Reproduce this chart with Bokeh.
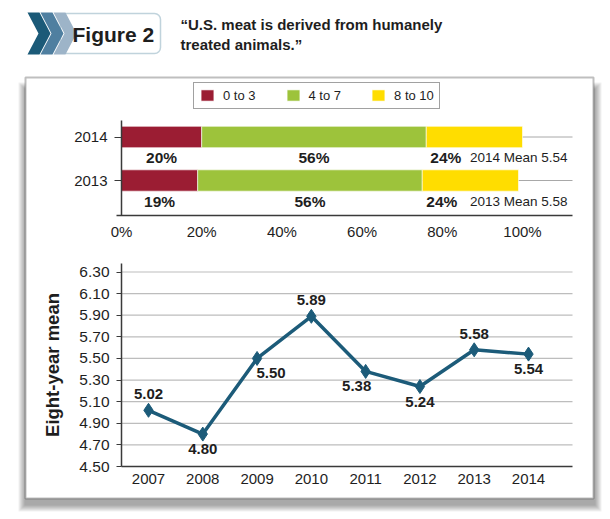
from bokeh.plotting import figure
from bokeh.models import (Range1d, LinearAxis, FixedTicker, BoxAnnotation,
                          Legend, LegendItem, ColumnDataSource)
from bokeh.core.properties import value
from bokeh.embed import file_html
from bokeh.resources import INLINE

# ---------------- data ----------------
bar_years = ["2013", "2014"]
share_low = [19, 20]     # ratings 0 to 3 (%)
share_mid = [56, 56]     # ratings 4 to 7 (%)
share_high = [24, 24]    # ratings 8 to 10 (%)
bands = ["0 to 3", "4 to 7", "8 to 10"]
pct_ticks = [0, 20, 40, 60, 80, 100]
pct_tick_labels = ["0%", "20%", "40%", "60%", "80%", "100%"]

years = [2007, 2008, 2009, 2010, 2011, 2012, 2013, 2014]
means = [5.02, 4.80, 5.50, 5.89, 5.38, 5.24, 5.58, 5.54]
mean_ticks = [4.50, 4.70, 4.90, 5.10, 5.30, 5.50, 5.70, 5.90, 6.10, 6.30]
mean_tick_labels = ["4.50", "4.70", "4.90", "5.10", "5.30",
                    "5.50", "5.70", "5.90", "6.10", "6.30"]

title_lines = ["\u201cU.S. meat is derived from humanely", "treated animals.\u201d"]
figure_label = "Figure 2"
y_title = "Eight-year mean"

# ---------------- page layout (pixels) ----------------
W, H = 610, 519
band_colors = ["#9b1d33", "#9dc33b", "#ffdd00"]
line_color = "#1c5b79"
ink = "#1e1e1e"
FONT = "Liberation Sans"


def scale(d0, d1, p0, p1):
    """Linear map from a pixel position to a data value (d0 at p0, d1 at p1)."""
    return lambda px: d0 + (d1 - d0) * (px - p0) / (p1 - p0)


# stacked-bar panel: 0% at x=121, 100% at x=522; rows 0/1 at y=180/136.5
bx = scale(0, 100, 121, 522)
by = scale(0, 1, 180, 136.5)
# line panel: 2007 at x=148, 2014 at x=528; 4.50 at y=466, 6.30 at y=271.5
lx = scale(years[0], years[-1], 148, 528)
ly = scale(mean_ticks[0], mean_ticks[-1], 466, 271.5)

p = figure(width=W, height=H, output_backend="svg", toolbar_location=None,
           x_range=Range1d(0, W), y_range=Range1d(H, 0),
           x_axis_type=None, y_axis_type=None, min_border=0,
           outline_line_color=None, background_fill_color="white",
           border_fill_color="white")
p.xgrid.visible = False
p.ygrid.visible = False

p.extra_x_ranges = {"bx": Range1d(bx(0), bx(W)), "lx": Range1d(lx(0), lx(W))}
p.extra_y_ranges = {"by": Range1d(by(H), by(0)), "ly": Range1d(ly(H), ly(0))}

# ---------------- framed panel with soft drop shadow ----------------
for k in range(7):
    p.add_layout(BoxAnnotation(left=24 - k, right=595 + k, top=88 - k, bottom=505 + k,
                               fill_color="black", fill_alpha=0.055, line_color=None,
                               level="underlay"))
p.add_layout(BoxAnnotation(left=25, right=593, top=77, bottom=498,
                           fill_color="white", fill_alpha=1.0, line_color="#2b2b2b",
                           line_width=2, level="underlay"))

# ---------------- header ----------------
p.add_layout(BoxAnnotation(left=60, right=160, top=13, bottom=53, border_radius=6,
                           fill_color="white", fill_alpha=1.0, line_color="#2e6e8c",
                           line_width=1.5, level="underlay"))
chev_x, chev_y = [], []
for x0 in (27, 40, 53):
    chev_x.append([x0, x0 + 12, x0 + 23, x0 + 12, x0, x0 + 11])
    chev_y.append([12, 12, 33, 54, 54, 33])
p.patches(chev_x, chev_y, fill_color=["#1b5a78", "#4f7fa0", "#9db4c8"],
          line_color=None)
p.text(x=[72], y=[33.5], text=[figure_label], text_font=value(FONT),
       text_font_style="bold", text_font_size="21px", text_color=ink,
       text_baseline="middle", text_align="left")
p.text(x=[180, 180], y=[24, 44], text=title_lines, text_font=value(FONT),
       text_font_style="bold", text_font_size="15px", text_color=ink,
       text_baseline="middle", text_align="left")

# ---------------- stacked bars ----------------
rows = list(range(len(bar_years)))
bar_right = bx(572)
p.segment(x0=[0] * len(rows), x1=[bar_right] * len(rows), y0=rows, y1=rows,
          line_color="#a8a8a8", line_width=1, x_range_name="bx", y_range_name="by")

shares = [share_low, share_mid, share_high]
lefts = [0] * len(rows)
bar_renderers = []
for band, vals, color in zip(bands, shares, band_colors):
    rights = [l + v for l, v in zip(lefts, vals)]
    r = p.hbar(y=rows, left=lefts, right=rights, height=0.49, fill_color=color,
               line_color="white", line_width=0.6,
               x_range_name="bx", y_range_name="by")
    bar_renderers.append(r)
    # percentage labels under each segment
    if band == bands[-1]:
        xs, align = [l + 1 for l in lefts], "left"
    else:
        xs, align = [(l + rr) / 2 for l, rr in zip(lefts, rights)], "center"
    p.text(x=xs, y=[r_ - 0.48 for r_ in rows], text=[f"{v}%" for v in vals],
           text_font=value(FONT), text_font_style="bold", text_font_size="15.5px",
           text_color=ink, text_align=align, text_baseline="middle",
           x_range_name="bx", y_range_name="by")
    lefts = rights

mean_notes = [f"{yr} Mean {means[years.index(int(yr))]:.2f}" for yr in bar_years]
p.text(x=[bx(567)] * len(rows), y=[r_ - 0.48 for r_ in rows], text=mean_notes,
       text_font=value(FONT), text_font_size="13.5px", text_color=ink,
       text_align="right", text_baseline="middle",
       x_range_name="bx", y_range_name="by")

bar_xaxis = LinearAxis(x_range_name="bx", y_range_name="by", fixed_location=by(215),
                       bounds=(bx(116), bx(572)),
                       ticker=FixedTicker(ticks=pct_ticks),
                       major_label_overrides=dict(zip(pct_ticks, pct_tick_labels)))
bar_yaxis = LinearAxis(x_range_name="bx", y_range_name="by", fixed_location=0,
                       bounds=(by(215), by(120)),
                       ticker=FixedTicker(ticks=rows),
                       major_label_overrides=dict(zip(rows, bar_years)))

legend = Legend(items=[LegendItem(label=b, renderers=[r])
                       for b, r in zip(bands, bar_renderers)],
                orientation="horizontal", location=(193, H - 108.5),
                glyph_width=16, glyph_height=14, label_standoff=8, spacing=29,
                padding=5, margin=0, label_height=13,
                label_text_font=FONT, label_text_font_size="13px",
                label_text_color=ink, border_line_color="#444",
                border_line_width=1, background_fill_color="white",
                background_fill_alpha=1.0)
p.add_layout(legend)

# ---------------- line chart ----------------
grid_vals = mean_ticks[1:]
p.segment(x0=[lx(121)] * len(grid_vals), x1=[lx(572)] * len(grid_vals),
          y0=grid_vals, y1=grid_vals, line_color="#bdbdbd", line_width=1.2,
          x_range_name="lx", y_range_name="ly")
p.line(years, means, line_color=line_color, line_width=3.5,
       x_range_name="lx", y_range_name="ly")
p.scatter(years, means, marker="diamond", size=14, fill_color=line_color,
          line_color=line_color, x_range_name="lx", y_range_name="ly")

# value labels: above local peaks, below everything else; a label under a
# point is nudged sideways, away from a neighbour that sits lower still
lab = dict(x=[], y=[], text=[], dx=[], dy=[])
for i, (yr, m) in enumerate(zip(years, means)):
    prev_m = means[i - 1] if i > 0 else None
    next_m = means[i + 1] if i < len(means) - 1 else None
    nb = [n for n in (prev_m, next_m) if n is not None]
    if all(m > n for n in nb):
        dx, dy = 0, -16
    else:
        dy = 15
        dx = 0
        if prev_m is not None and prev_m < m:
            dx = 14
        elif next_m is not None and next_m < m:
            dx = -9
    lab["x"].append(yr)
    lab["y"].append(m)
    lab["text"].append(f"{m:.2f}")
    lab["dx"].append(dx)
    lab["dy"].append(dy)
p.text(x="x", y="y", text="text", x_offset="dx", y_offset="dy",
       source=ColumnDataSource(lab),
       text_font=value(FONT), text_font_style="bold", text_font_size="15px",
       text_color=ink, text_align="center", text_baseline="middle",
       x_range_name="lx", y_range_name="ly")

line_xaxis = LinearAxis(x_range_name="lx", y_range_name="ly",
                        fixed_location=mean_ticks[0],
                        bounds=(lx(121), lx(572)),
                        ticker=FixedTicker(ticks=years))
line_yaxis = LinearAxis(x_range_name="lx", y_range_name="ly", fixed_location=lx(121),
                        bounds=(mean_ticks[0], ly(263)),
                        ticker=FixedTicker(ticks=mean_ticks),
                        major_label_overrides=dict(zip(mean_ticks, mean_tick_labels)),
                        axis_label=y_title)

for ax in (bar_xaxis, bar_yaxis, line_xaxis, line_yaxis):
    ax.axis_line_color = "#3a3a3a"
    ax.axis_line_width = 1.5
    ax.minor_tick_in = 0
    ax.minor_tick_out = 0
    ax.major_tick_in = 0
    ax.major_tick_line_color = "#3a3a3a"
    ax.major_tick_line_width = 1.2
    ax.major_label_text_font = FONT
    ax.major_label_text_color = ink
    ax.major_label_text_font_size = "15px"

for ax in (bar_xaxis, line_xaxis):
    ax.major_tick_out = 0
    ax.major_label_standoff = 7
for ax in (bar_yaxis, line_yaxis):
    ax.major_label_standoff = 7
bar_yaxis.major_tick_out = 7
line_yaxis.major_tick_out = 5
line_yaxis.major_label_text_font_size = "15.5px"
line_yaxis.axis_label_text_font = FONT
line_yaxis.axis_label_text_font_style = "bold"
line_yaxis.axis_label_text_font_size = "18.5px"
line_yaxis.axis_label_text_color = ink
line_yaxis.axis_label_standoff = 13

p.add_layout(bar_xaxis, "below")
p.add_layout(line_xaxis, "below")
p.add_layout(bar_yaxis, "left")
p.add_layout(line_yaxis, "left")

open("out.html", "w").write(file_html(p, INLINE))
